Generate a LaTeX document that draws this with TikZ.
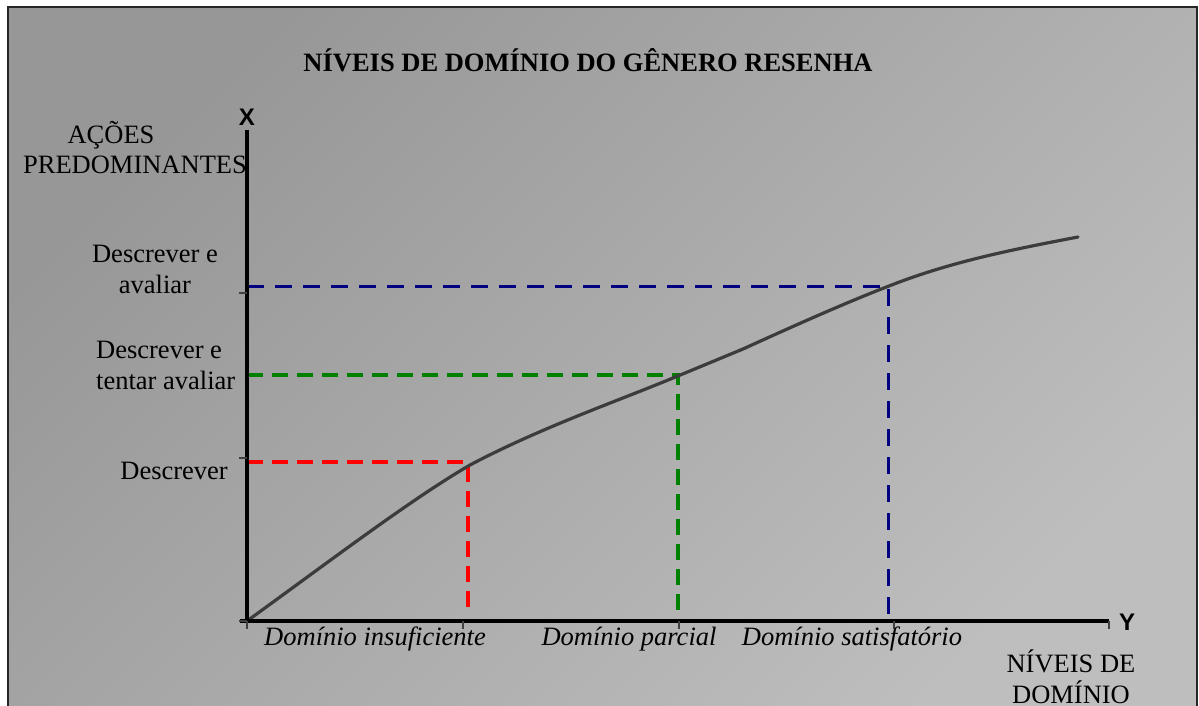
\documentclass[tikz,border=0pt]{standalone}
\usepackage{fontspec}
\setmainfont{Liberation Serif}
\setsansfont{Liberation Sans}
\usetikzlibrary{positioning}

\definecolor{bgdark}{HTML}{979797}
\definecolor{bglight}{HTML}{BEBEBE}
\definecolor{curvegray}{HTML}{3C3C3C}
\definecolor{lvlred}{HTML}{FF0000}
\definecolor{lvlgreen}{HTML}{008000}
\definecolor{lvlblue}{HTML}{000080}

\begin{document}
\begin{tikzpicture}[
            x=1pt,y=-1pt,
            every node/.style={inner sep=0,font=\fontsize{26.5}{31}\selectfont},
            axis/.style={draw,black,line width=3.5pt},
            tick/.style={draw,black!75,line width=1.2pt},
            curve/.style={draw,curvegray,line width=3.2pt,line cap=round},
            lvl/.style={line width=3.8pt,dash pattern=on 16pt off 9pt},
            lab/.style={align=center,anchor=base},
            dom/.style={anchor=base,font=\fontsize{26.5}{31}\selectfont\itshape},
            axlab/.style={anchor=base,font=\fontsize{24}{28}\selectfont\sffamily\bfseries}
          ]
          \useasboundingbox (0,0) rectangle (1199,706);
          %background
          \shade[top color=bgdark,bottom color=bglight,shading angle=45] (8,7) rectangle (1197,712);
          \draw[black!85,line width=2pt] (8,7) rectangle (1197,712);

          %points
          \coordinate (O) at (247,621);
          \coordinate (xend) at (1109,621);
          \coordinate (ytop) at (247,130);
          \coordinate (pR) at (468,462);
          \coordinate (pG) at (678,375);
          \coordinate (pB) at (888,286);
          \coordinate (lR) at (247,462);
          \coordinate (lG) at (247,375);
          \coordinate (lB) at (247,286);
          \coordinate (fR) at (468,614);
          \coordinate (fG) at (678,617);
          \coordinate (fB) at (888,617);
          \coordinate (cR) at (470,465);
          \coordinate (cG) at (673,378);
          \coordinate (kink) at (743,349);
          \coordinate (cB) at (889,286);
          \coordinate (cend) at (1078,237);

          %levels
          \draw[lvl,lvlred] (lR) -- (pR) -- (fR);
          \draw[lvl,lvlgreen] (lG) -- (pG) -- (fG);
          \draw[lvl,lvlblue,line width=3pt,dash pattern=on 17pt off 11pt] (lB) -- (pB) -- (fB);

          %curve
          \draw[curve] (O) .. controls (330,561) and (410,500) .. (cR)
                           .. controls (540,428) and (615,402) .. (cG)
                           -- (kink)
                           .. controls (800,323) and (850,301) .. (cB)
                           .. controls (950,262) and (1010,250) .. (cend);

          %axes
          \draw[axis] (ytop) -- (247,622);
          \draw[axis] (240,621) -- (xend);
          \foreach \y in {293,458,621} \draw[tick] (239,\y) -- (247,\y);
          \foreach \x in {247,463,679,894,1109} \draw[tick] (\x,621) -- (\x,629);

          %labels
          \node[anchor=base,font=\fontsize{26.5}{31}\selectfont\bfseries] (title) at (588,72) {NÍVEIS DE DOMÍNIO DO GÊNERO RESENHA};
          \node[axlab] (X) at (247,126) {X};
          \node[axlab,anchor=base west] (Y) at (1119,630) {Y};
          \node[lab] (acoes) at (111,143) {AÇÕES};
          \node[lab] (predom) at (135,173) {PREDOMINANTES};
          \node[lab] (dB) at (155,293) {Descrever e\\avaliar};
          \node[align=left,anchor=base west] (dG) at (96,389) {Descrever e\\tentar avaliar};
          \node[anchor=base east] (dR) at (228,479) {Descrever};
          \node[dom] (domR) at (375,645) {Domínio insuficiente};
          \node[dom] (domG) at (629,645) {Domínio parcial};
          \node[dom] (domB) at (852,645) {Domínio satisfatório};
          \node[lab] (niveis) at (1071,703) {NÍVEIS DE\\DOMÍNIO};
\end{tikzpicture}
\end{document}
